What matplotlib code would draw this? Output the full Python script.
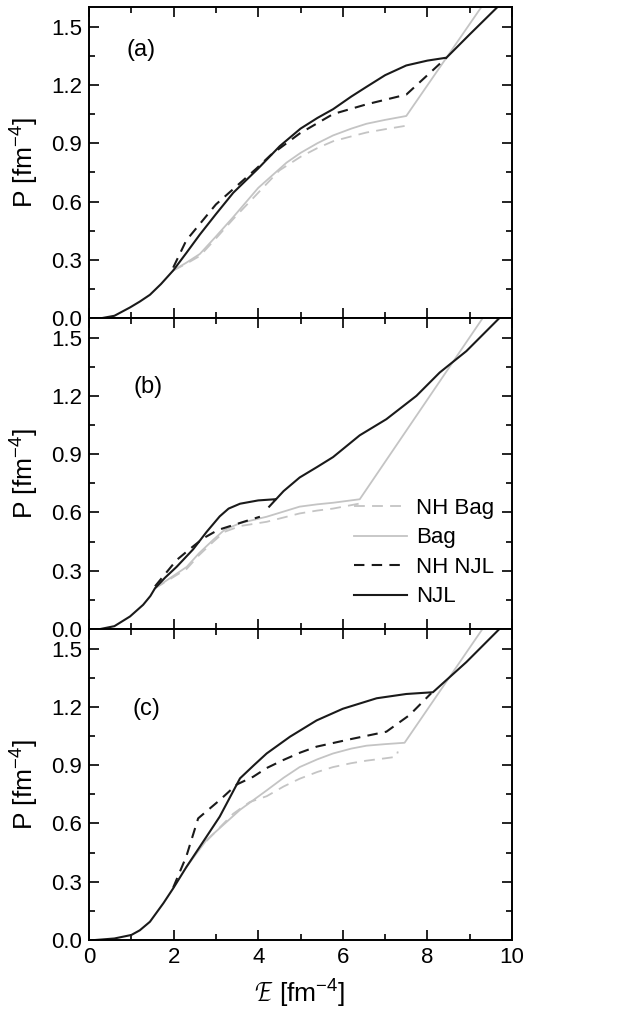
import numpy as np
import matplotlib
matplotlib.use('Agg')
import matplotlib.pyplot as plt
from matplotlib.ticker import MultipleLocator

plt.rcParams['font.family'] = ['Liberation Sans', 'DejaVu Sans']
plt.rcParams['mathtext.fontset'] = 'custom'
plt.rcParams['mathtext.rm'] = 'Liberation Sans'

nan = np.nan

# ---- panel (a) ----
a_njl_x = [0.3, 0.6, 0.97, 1.2, 1.44, 1.7, 1.99, 2.3, 2.62, 3.0, 3.41, 4.0, 4.51, 5.0, 5.4, 5.77,
           6.2, 6.56, 7.0, 7.5, 8.0, 8.45, 9.0, 9.7]
a_njl_y = [0.0, 0.012, 0.055, 0.085, 0.12, 0.175, 0.245, 0.335, 0.43, 0.535, 0.645, 0.77, 0.885, 0.975, 1.03, 1.075,
           1.14, 1.19, 1.25, 1.30, 1.325, 1.34, 1.46, 1.61]
a_nhnjl_x = [1.99, 2.3, 3.0, 3.96, 4.3, 4.98, 5.77, 6.56, 7.5, 8.45]
a_nhnjl_y = [0.26, 0.40, 0.585, 0.77, 0.84, 0.95, 1.05, 1.10, 1.15, 1.34]
a_bag_x = [1.99, 2.3, 2.62, 3.0, 3.41, 4.0, 4.67, 5.0, 5.4, 5.77, 6.2, 6.56, 7.0, 7.5, 9.4]
a_bag_y = [0.245, 0.285, 0.33, 0.42, 0.52, 0.67, 0.80, 0.85, 0.90, 0.94, 0.975, 1.0, 1.02, 1.04, 1.64]
a_nhbag_x = [1.99, 2.3, 2.62, 3.0, 3.41, 4.0, 4.5, 5.0, 5.4, 5.77, 6.2, 6.56, 7.0, 7.5]
a_nhbag_y = [0.245, 0.28, 0.32, 0.41, 0.51, 0.645, 0.76, 0.83, 0.875, 0.91, 0.935, 0.955, 0.972, 0.99]

# ---- panel (b) ----
b_njl_x = [0.26, 0.6, 0.97, 1.28, 1.45, 1.56, 1.8, 2.07, 2.46, 2.78, 3.09, 3.3, 3.57, 4.0, 4.40, nan,
           4.26, 4.6, 4.98, 5.4, 5.77, 6.40, 7.03, 7.74, 8.29, 8.92, 9.7]
b_njl_y = [0.0, 0.015, 0.065, 0.125, 0.17, 0.21, 0.265, 0.32, 0.41, 0.50, 0.58, 0.62, 0.645, 0.662, 0.668, nan,
           0.63, 0.71, 0.78, 0.835, 0.885, 0.997, 1.08, 1.20, 1.32, 1.43, 1.60]
b_nhnjl_x = [1.56, 2.07, 2.4, 2.7, 3.05, 3.41, 3.7, 4.04]
b_nhnjl_y = [0.22, 0.355, 0.415, 0.467, 0.51, 0.535, 0.555, 0.578]
b_bag_x = [1.56, 1.9, 2.31, 2.6, 2.94, 3.2, 3.57, 4.2, 4.98, 5.4, 5.77, 6.40, 9.4]
b_bag_y = [0.21, 0.26, 0.32, 0.39, 0.46, 0.51, 0.545, 0.578, 0.63, 0.642, 0.65, 0.668, 1.63]
b_nhbag_x = [1.56, 1.9, 2.31, 2.6, 2.94, 3.2, 3.57, 4.2, 4.98, 5.4, 5.77, 6.4]
b_nhbag_y = [0.21, 0.255, 0.31, 0.38, 0.45, 0.50, 0.53, 0.552, 0.595, 0.61, 0.62, 0.646]

# ---- panel (c) ----
c_njl_x = [0.14, 0.6, 1.0, 1.2, 1.44, 1.76, 1.99, 2.3, 2.62, 3.09, 3.57, 3.9, 4.2, 4.75, 5.38, 6.0,
           6.8, 7.5, 8.13, 8.92, 9.7]
c_njl_y = [0.0, 0.008, 0.026, 0.05, 0.094, 0.19, 0.266, 0.375, 0.48, 0.635, 0.832, 0.90, 0.96, 1.046, 1.13, 1.19,
           1.244, 1.266, 1.275, 1.43, 1.60]
c_nhnjl_x = [1.99, 2.3, 2.58, 3.09, 3.49, 3.88, 4.2, 4.59, 5.0, 5.38, 6.17, 7.03, 7.58, 8.09]
c_nhnjl_y = [0.27, 0.43, 0.626, 0.72, 0.80, 0.84, 0.885, 0.926, 0.965, 0.995, 1.033, 1.072, 1.158, 1.27]
c_bag_x = [2.3, 2.78, 3.57, 4.2, 4.6, 4.98, 5.4, 5.77, 6.2, 6.56, 7.0, 7.46, 9.3]
c_bag_y = [0.375, 0.515, 0.67, 0.77, 0.835, 0.89, 0.93, 0.96, 0.985, 1.0, 1.008, 1.015, 1.60]
c_nhbag_x = [2.78, 3.41, 3.8, 4.2, 4.6, 4.98, 5.4, 5.77, 6.2, 6.56, 7.0, 7.27, 7.3]
c_nhbag_y = [0.51, 0.65, 0.71, 0.74, 0.79, 0.83, 0.865, 0.89, 0.91, 0.923, 0.935, 0.943, 0.97]

panels = [
    ('(a)', (1.24, 1.38), a_nhbag_x, a_nhbag_y, a_bag_x, a_bag_y, a_nhnjl_x, a_nhnjl_y, a_njl_x, a_njl_y),
    ('(b)', (1.40, 1.245), b_nhbag_x, b_nhbag_y, b_bag_x, b_bag_y, b_nhnjl_x, b_nhnjl_y, b_njl_x, b_njl_y),
    ('(c)', (1.36, 1.19), c_nhbag_x, c_nhbag_y, c_bag_x, c_bag_y, c_nhnjl_x, c_nhnjl_y, c_njl_x, c_njl_y),
]

gray = '#c4c4c4'
fig, axes = plt.subplots(3, 1, figsize=(6.34, 10.22), dpi=100, sharex=True)
fig.subplots_adjust(left=0.1404, right=0.8076, top=0.993, bottom=0.0802, hspace=0)

for ax, (lab, lpos, nbx, nby, bx, by, nnx, nny, jx, jy) in zip(axes, panels):
    ax.plot(nbx, nby, color=gray, lw=1.3, ls=(0, (6, 4)), label='NH Bag')
    ax.plot(bx, by, color=gray, lw=1.3, label='Bag')
    ax.plot(nnx, nny, color='#1a1a1a', lw=1.5, ls=(0, (5, 3.5)), label='NH NJL')
    ax.plot(jx, jy, color='#1a1a1a', lw=1.5, label='NJL')
    ax.text(lpos[0], lpos[1], lab, fontsize=17, ha='center', va='center')
    ax.set_xlim(0, 10)
    ax.set_ylim(0, 1.6)
    ax.xaxis.set_major_locator(MultipleLocator(2))
    ax.xaxis.set_minor_locator(MultipleLocator(1))
    ax.yaxis.set_major_locator(MultipleLocator(0.3))
    ax.yaxis.set_minor_locator(MultipleLocator(0.15))
    ax.yaxis.set_major_formatter(plt.FormatStrFormatter('%.1f'))
    ax.tick_params(which='both', direction='in', top=True, right=True, width=1.2, labelsize=16, pad=5)
    ax.tick_params(which='major', length=7)
    ax.tick_params(which='minor', length=4)
    for s in ax.spines.values():
        s.set_linewidth(1.4)
    ax.set_ylabel('P [fm$^{-4}$]', fontsize=19, labelpad=8)

axes[1].legend(loc='lower right', bbox_to_anchor=(0.995, 0.02), frameon=False, fontsize=16,
               handlelength=2.4, handletextpad=0.4, labelspacing=0.38, borderpad=0.2)
axes[2].set_xlabel(r'$\mathcal{E}$ [fm$^{-4}$]', fontsize=19, labelpad=6)

fig.savefig('out.png', dpi=100)
